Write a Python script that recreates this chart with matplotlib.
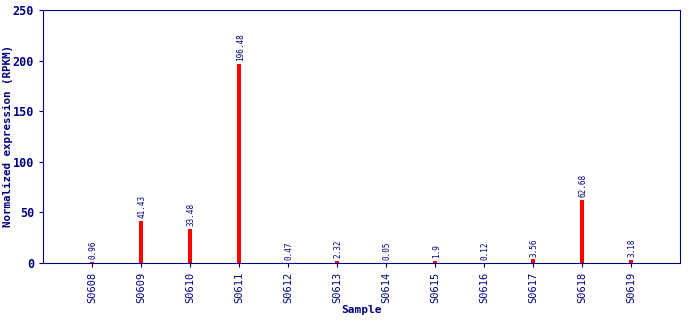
import matplotlib
matplotlib.use("Agg")
import matplotlib.pyplot as plt

samples = ["S0608", "S0609", "S0610", "S0611", "S0612", "S0613",
           "S0614", "S0615", "S0616", "S0617", "S0618", "S0619"]
rpkm = [0.96, 41.43, 33.48, 196.48, 0.47, 2.32,
        0.05, 1.9, 0.12, 3.56, 62.68, 3.18]
value_labels = ["0.96", "41.43", "33.48", "196.48", "0.47", "2.32",
                "0.05", "1.9", "0.12", "3.56", "62.68", "3.18"]

navy = "#000080"
mono = "DejaVu Sans Mono"

fig = plt.figure(figsize=(6.9, 3.2), dpi=100)
ax = fig.add_axes([0.0623, 0.178, 0.9232, 0.791])

x = list(range(len(samples)))
ax.bar(x, rpkm, width=0.08, color="#ff0000", zorder=2)

for xi, v, lab in zip(x, rpkm, value_labels):
    ax.annotate(lab, (xi, v), xytext=(1, 2), textcoords="offset points",
                rotation=90, ha="center", va="bottom", fontsize=5.5,
                family=mono, color=navy)

ax.set_xlim(-1, len(samples))
ax.set_ylim(0, 250)
ax.set_yticks([0, 50, 100, 150, 200, 250])
ax.set_xticks(x)
ax.set_xticklabels(samples, rotation=90, family=mono, fontsize=7.5, color=navy)
for t in ax.get_yticklabels():
    t.set_family(mono)
    t.set_fontweight("bold")
    t.set_fontsize(8.5)
    t.set_color(navy)

ax.tick_params(colors=navy, length=3)
for s in ax.spines.values():
    s.set_color(navy)

ax.set_ylabel("Normalized expression (RPKM)", family=mono, fontweight="bold",
              fontsize=7.8, color=navy, va="center")
ax.yaxis.set_label_coords(-0.055, 0.5)
ax.set_xlabel("Sample", family=mono, fontweight="bold", fontsize=8,
              color=navy, labelpad=1)

fig.savefig("out.png", dpi=100)
